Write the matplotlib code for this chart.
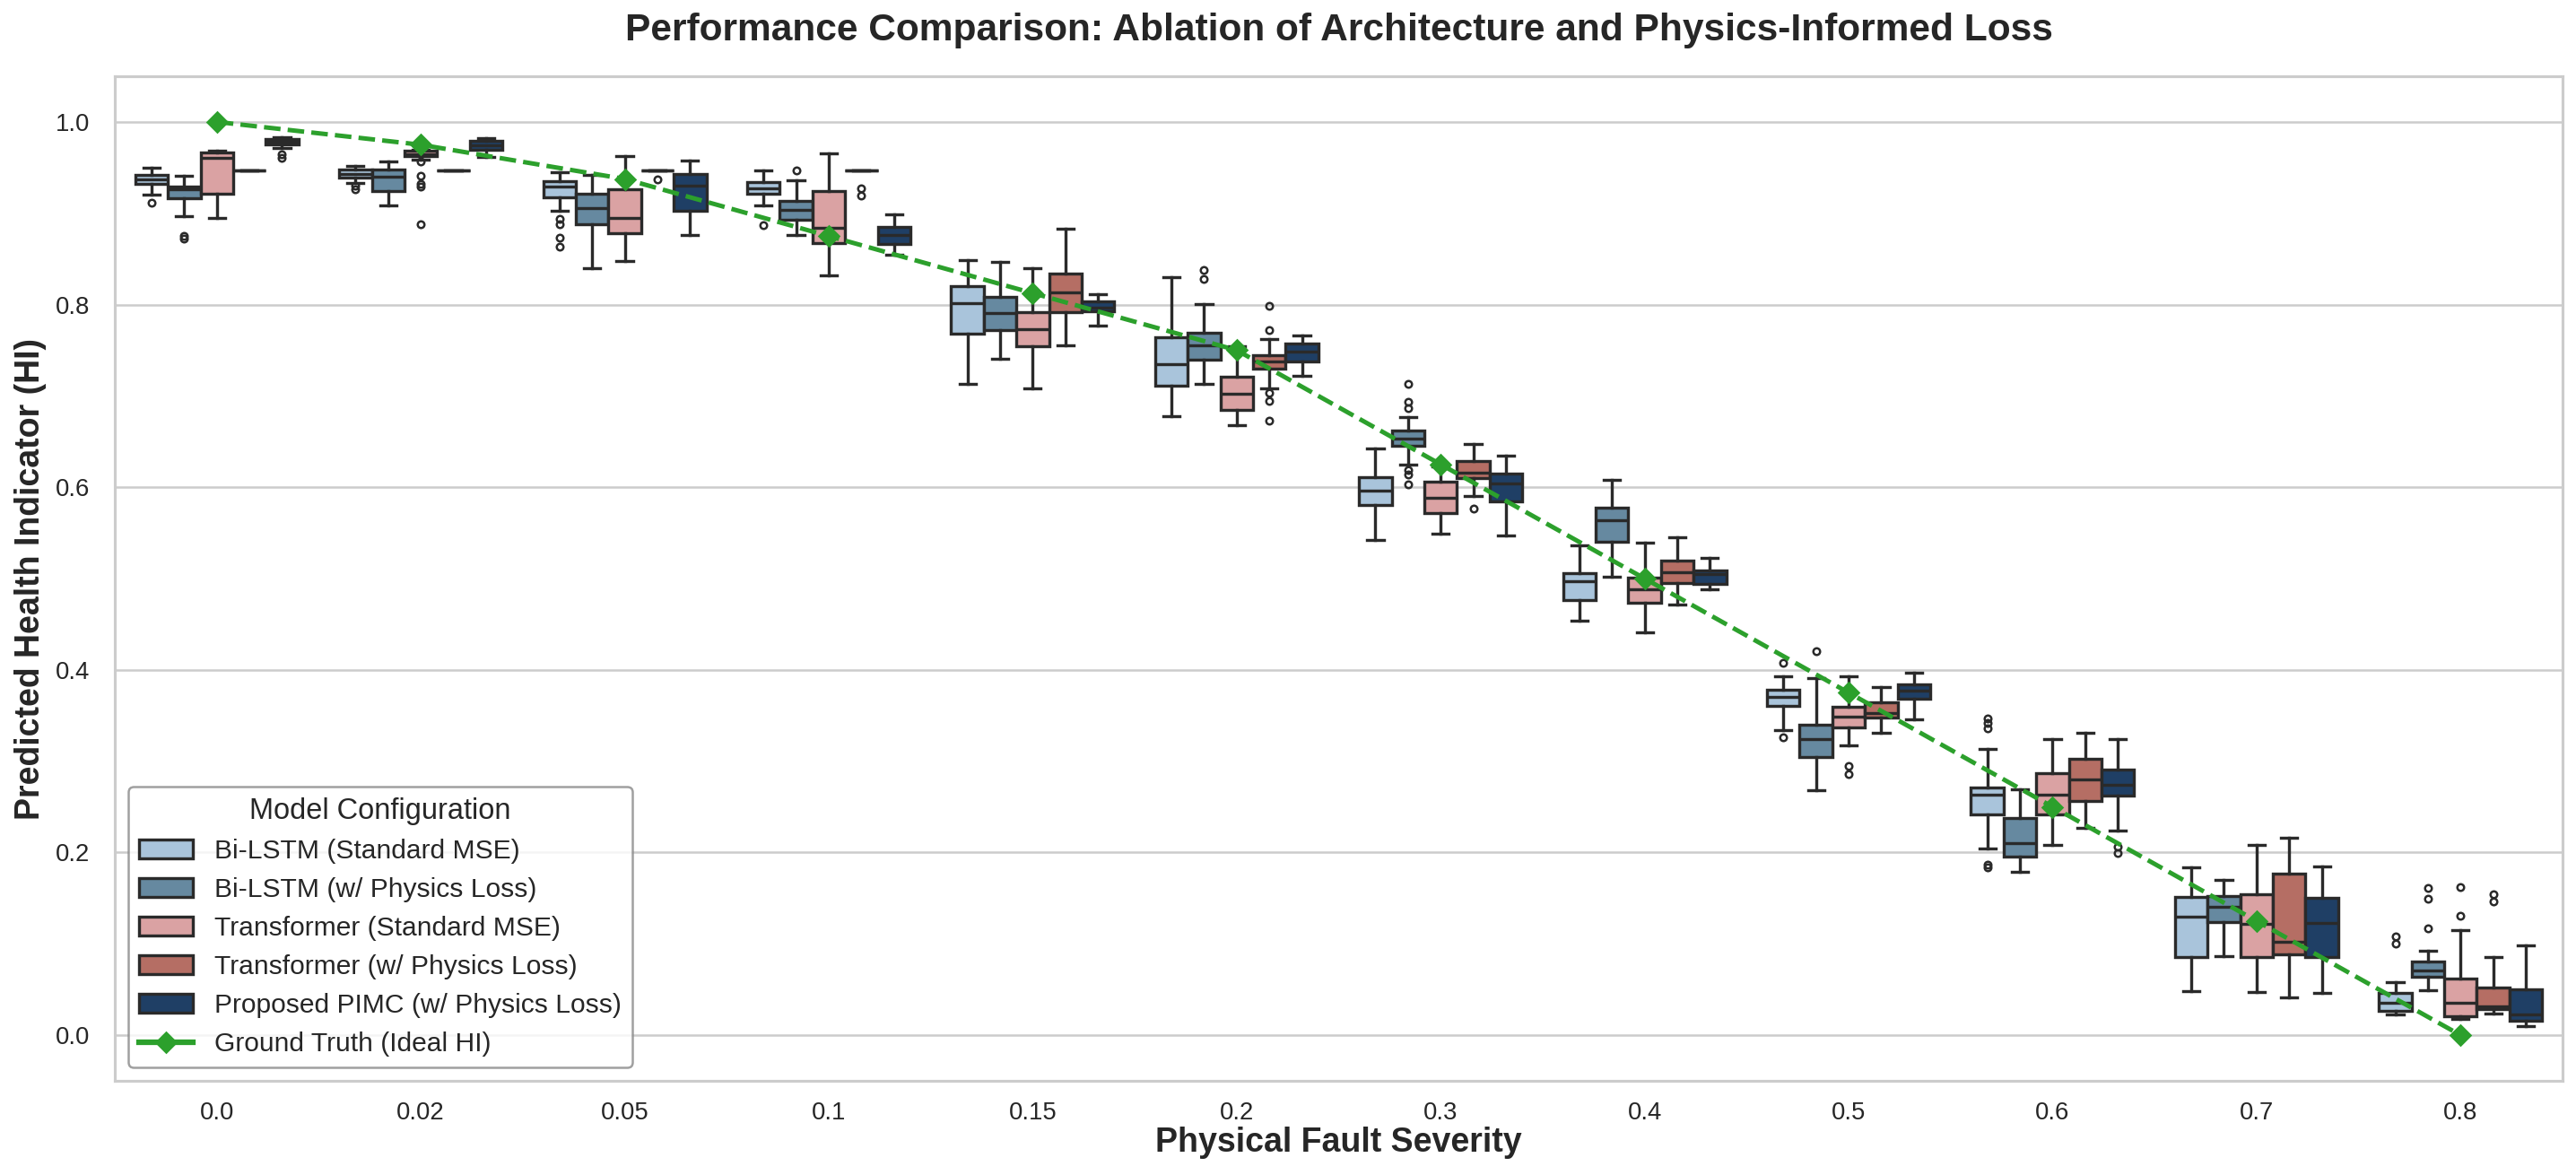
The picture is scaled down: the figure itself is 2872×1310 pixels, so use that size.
import numpy as np
import matplotlib
matplotlib.use("Agg")
import matplotlib.pyplot as plt
from matplotlib.patches import Patch
from matplotlib.lines import Line2D

plt.rcParams['font.family'] = ['Liberation Sans', 'DejaVu Sans']
plt.rcParams['text.color'] = '#262626'
plt.rcParams['axes.labelcolor'] = '#262626'
plt.rcParams['xtick.color'] = '#262626'
plt.rcParams['ytick.color'] = '#262626'

severity = ["0.0", "0.02", "0.05", "0.1", "0.15", "0.2", "0.3", "0.4", "0.5", "0.6", "0.7", "0.8"]
ground_truth = [1.0, 0.975, 0.9375, 0.875, 0.8125, 0.75, 0.625, 0.5, 0.375, 0.25, 0.125, 0.0]

models = ["Bi-LSTM (Standard MSE)", "Bi-LSTM (w/ Physics Loss)", "Transformer (Standard MSE)",
          "Transformer (w/ Physics Loss)", "Proposed PIMC (w/ Physics Loss)"]
colors = ["#a9c4db", "#6689a0", "#daa2a3", "#b56e64", "#1f3f65"]

# per severity: (whisker low, q1, median, q3, whisker high)
lstm_mse = [(.920, .932, .937, .942, .950), (.933, .939, .943, .948, .952),
            (.903, .917, .929, .935, .945), (.909, .921, .927, .934, .947),
            (.713, .768, .802, .820, .849), (.678, .711, .735, .764, .830),
            (.542, .581, .596, .611, .642), (.454, .476, .497, .506, .536),
            (.334, .361, .370, .378, .393), (.204, .242, .263, .271, .313),
            (.048, .086, .130, .151, .184), (.023, .027, .035, .046, .058)]
lstm_phy = [(.897, .916, .926, .929, .941), (.909, .924, .940, .948, .957),
            (.840, .888, .906, .921, .942), (.876, .893, .904, .913, .936),
            (.741, .772, .791, .808, .847), (.713, .740, .755, .769, .801),
            (.625, .645, .653, .662, .677), (.502, .540, .564, .578, .608),
            (.268, .305, .324, .340, .391), (.179, .196, .210, .238, .269),
            (.087, .124, .141, .152, .170), (.049, .064, .071, .081, .092)]
tf_mse = [(.895, .921, .961, .967, .968), (.959, .963, .965, .968, .969),
          (.848, .878, .895, .926, .963), (.832, .867, .884, .924, .966),
          (.708, .754, .773, .792, .840), (.668, .685, .702, .721, .754),
          (.549, .572, .588, .606, .623), (.441, .473, .488, .501, .539),
          (.317, .337, .349, .360, .393), (.208, .242, .263, .287, .324),
          (.047, .086, .122, .154, .208), (.018, .021, .035, .062, .115)]
tf_phy = [(.947, .947, .947, .947, .947), (.947, .947, .947, .947, .947),
          (.947, .947, .947, .947, .947), (.947, .947, .947, .947, .947),
          (.755, .792, .813, .834, .883), (.708, .730, .738, .745, .762),
          (.590, .610, .616, .629, .647), (.472, .495, .507, .520, .545),
          (.331, .348, .353, .364, .381), (.227, .256, .280, .303, .331),
          (.041, .088, .102, .177, .216), (.024, .029, .032, .052, .086)]
pimc = [(.971, .975, .978, .981, .983), (.962, .969, .974, .979, .982),
        (.876, .903, .930, .943, .958), (.855, .866, .876, .885, .899),
        (.777, .793, .797, .803, .811), (.722, .738, .748, .757, .766),
        (.547, .584, .604, .615, .635), (.488, .494, .505, .509, .523),
        (.346, .368, .377, .384, .397), (.224, .262, .274, .291, .324),
        (.046, .086, .123, .150, .185), (.010, .016, .023, .050, .098)]

# outliers per severity
lstm_mse_fl = [[.912], [.930, .926], [.894, .888, .873, .863], [.887], [], [], [], [],
               [.408, .326], [.347, .342, .336, .187, .184], [], [.108, .100]]
lstm_phy_fl = [[.875, .872], [], [], [.947], [], [.838, .828],
               [.713, .693, .687, .619, .614, .603], [], [.420], [], [], [.161, .149, .117]]
tf_mse_fl = [[], [.957, .941, .932, .929, .888], [], [], [], [], [], [],
             [.295, .286], [], [], [.162, .131]]
tf_phy_fl = [[], [], [.937], [.927, .919], [], [.799, .772, .703, .694, .673],
             [.577], [], [], [], [], [.154, .146]]
pimc_fl = [[.965, .961], [], [], [], [], [], [], [], [], [.206, .199], [], []]

summaries = [lstm_mse, lstm_phy, tf_mse, tf_phy, pimc]
fliers = [lstm_mse_fl, lstm_phy_fl, tf_mse_fl, tf_phy_fl, pimc_fl]

edge = "#2a2a2a"
lw = 1.35
box_w = 0.16
offsets = [-0.32, -0.16, 0.0, 0.16, 0.32]

fig = plt.figure(figsize=(2872 / 180, 1310 / 180), dpi=180)
ax = fig.add_axes([128 / 2872, 1 - 1205 / 1310, (2857 - 128) / 2872, (1205 - 85) / 1310])

x = np.arange(len(severity))
for k in range(len(models)):
    stats = []
    for i, (lo, q1, med, q3, hi) in enumerate(summaries[k]):
        stats.append(dict(whislo=lo, q1=q1, med=med, q3=q3, whishi=hi, fliers=fliers[k][i]))
    ax.bxp(stats, positions=x + offsets[k], widths=box_w, patch_artist=True,
           manage_ticks=False,
           boxprops=dict(facecolor=colors[k], edgecolor=edge, linewidth=lw),
           medianprops=dict(color=edge, linewidth=lw),
           whiskerprops=dict(color=edge, linewidth=lw),
           capprops=dict(color=edge, linewidth=lw),
           flierprops=dict(marker='o', markersize=3, markerfacecolor='none',
                           markeredgecolor=edge, markeredgewidth=1))

ax.plot(x, ground_truth, color='#2ca02c', ls='--', lw=2, marker='D', ms=6.2, zorder=10)

ax.set_xlim(-0.5, len(severity) - 0.5)
ax.set_ylim(-0.05, 1.05)
ax.set_xticks(x)
ax.set_xticklabels(severity)
ax.set_yticks(np.arange(0, 1.01, 0.2))
ax.tick_params(axis='both', length=0, labelsize=11)
ax.tick_params(axis='x', pad=9)
ax.tick_params(axis='y', pad=11)
ax.yaxis.grid(True, color='#cccccc', lw=1)
ax.set_axisbelow(True)
for s in ax.spines.values():
    s.set_color('#cccccc')
    s.set_linewidth(1.25)

ax.set_xlabel("Physical Fault Severity", fontsize=15, fontweight='bold', labelpad=1)
ax.set_ylabel("Predicted Health Indicator (HI)", fontsize=15, fontweight='bold')
ax.set_title("Performance Comparison: Ablation of Architecture and Physics-Informed Loss",
             fontsize=17, fontweight='bold', pad=16)

handles = [Patch(facecolor=c, edgecolor=edge, linewidth=lw, label=m) for m, c in zip(models, colors)]
handles.append(Line2D([0], [0], color='#2ca02c', lw=2.5, marker='D', ms=6.2,
                      label="Ground Truth (Ideal HI)"))
leg = ax.legend(handles=handles, loc='lower left', title="Model Configuration",
                fontsize=12, title_fontsize=13, frameon=True, edgecolor='#888888')

fig.savefig("out.png", dpi=180)
